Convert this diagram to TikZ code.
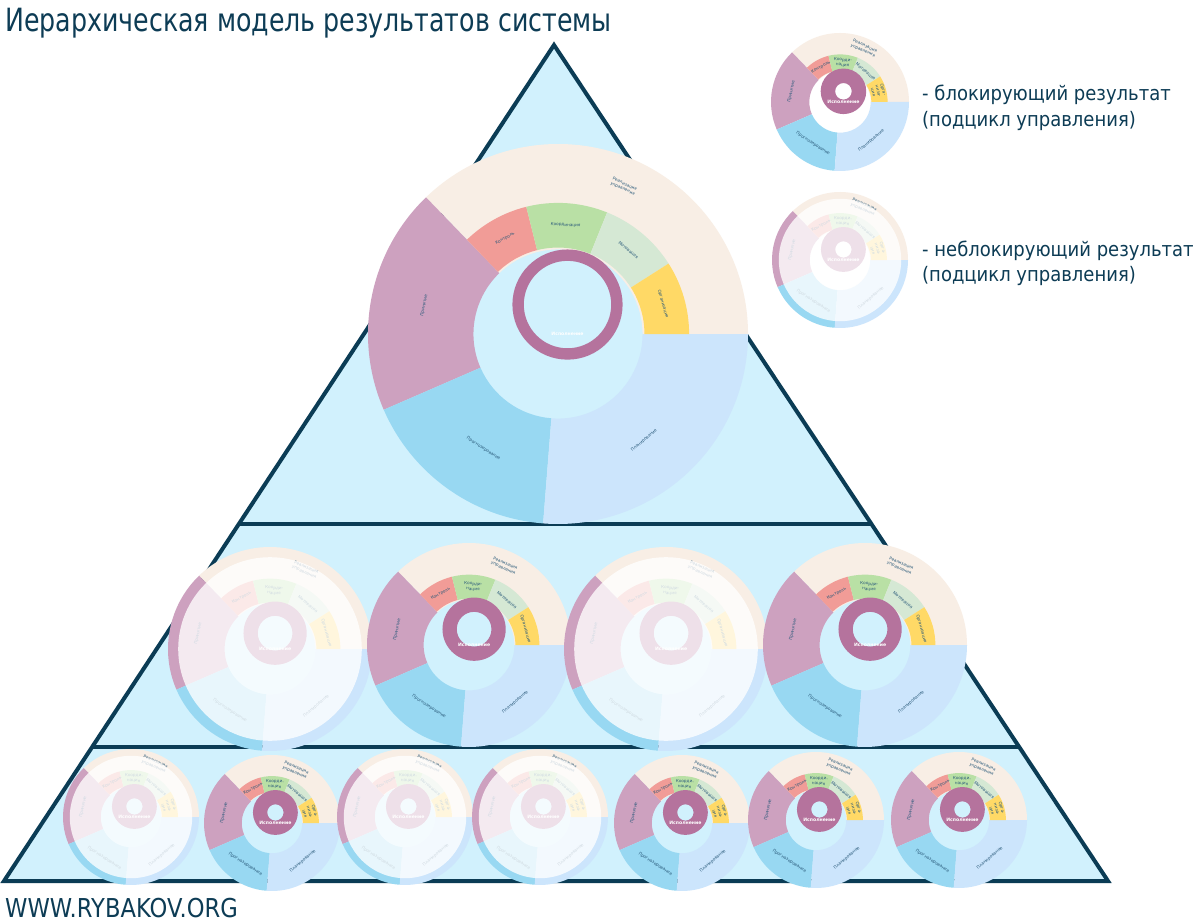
\documentclass[tikz,border=0pt]{standalone}
\usepackage{fontspec}
\setmainfont{DejaVu Sans}
\usetikzlibrary{calc}
\definecolor{bgc}{HTML}{D1F1FD}
\definecolor{linec}{HTML}{0B3C55}
\definecolor{titlec}{HTML}{0D3C55}
\definecolor{cbeige}{HTML}{F8EEE5}
\definecolor{cpurple}{HTML}{CDA1BF}
\definecolor{cring}{HTML}{B5739D}
\definecolor{cpink}{HTML}{F19C97}
\definecolor{cgreen}{HTML}{B9E0A5}
\definecolor{clgreen}{HTML}{D5E8D4}
\definecolor{cyellow}{HTML}{FFD966}
\definecolor{cblue}{HTML}{98D8F2}
\definecolor{cperi}{HTML}{CCE5FC}
\definecolor{lblc}{HTML}{2A5A7A}
\tikzset{
  lbl/.style={font=\fontsize{4.2}{5.2}\selectfont, text=lblc, align=center, inner sep=0pt},
  exec/.style={font=\fontsize{4.6}{5}\selectfont\bfseries, text=white, inner sep=0pt},
  edge/.style={draw=linec, line width=4.5pt},
  bigtext/.style={text=titlec, inner sep=0pt, anchor=base west}
}
% annular sector: color, a1, a2, r1 frac, r2 frac
\newcommand\annsec[5]{\fill[#1] (#2:{#4*\cR}) -- (#2:{#5*\cR}) arc[start angle=#2,end angle=#3,radius={#5*\cR}] -- (#3:{#4*\cR}) arc[start angle=#3,end angle=#2,radius={#4*\cR}] -- cycle;}
% result circle: x, y, R, ring outer frac, ring inner frac, Koord text, Org text
\newcommand\rescirc[7]{%
\begin{scope}[shift={(#1,#2)}]
  \def\cR{#3}
  \annsec{cbeige}{0}{134}{0.445}{1}
  \annsec{cpurple}{134}{203.5}{0.445}{1}
  \annsec{cblue}{203.5}{265.5}{0.445}{1}
  \annsec{cperi}{265.5}{360}{0.445}{1}
  \annsec{cpink}{104}{134}{0.455}{0.69}
  \annsec{cgreen}{68}{104}{0.455}{0.69}
  \annsec{clgreen}{32.5}{68}{0.455}{0.69}
  \annsec{cyellow}{0}{32.5}{0.455}{0.69}
  \fill[cring, even odd rule] ({0.05*\cR},{0.155*\cR}) circle[radius={#4*\cR}] ({0.05*\cR},{0.155*\cR}) circle[radius={#5*\cR}];
  \node[lbl, rotate=-24] at (66:{0.85*\cR}) {Реализация\\управления};
  \node[lbl, rotate=29] at (119:{0.575*\cR}) {Контроль};
  \node[lbl, rotate=-4] at (86:{0.575*\cR}) {#6};
  \node[lbl, rotate=-40] at (50:{0.575*\cR}) {Мотивация};
  \node[lbl, rotate=-74] at (16:{0.575*\cR}) {#7};
  \node[lbl, rotate=78] at (168:{0.72*\cR}) {Принятие};
  \node[lbl, rotate=-33] at (237:{0.72*\cR}) {Прогнозирование};
  \node[lbl, rotate=40] at (309:{0.72*\cR}) {Планирование};
  \node[exec] at ({0.05*\cR},0) {Исполнение};
\end{scope}}
\newcommand\fadeit[3]{\fill[white, opacity=0.78] (#1,#2) circle[radius={0.9*#3}];}
\newcommand\topcirc[3]{\rescirc{#1}{#2}{#3}{0.29}{0.23}{Координация}{Организация}}
\newcommand\midcirc[2]{\rescirc{#1}{#2}{102}{0.31}{0.17}{Коорди-\\нация}{Организация}}
\newcommand\lowcirc[3]{\rescirc{#1}{#2}{#3}{0.33}{0.12}{Коорди-\\нация}{Орга-\\низа-\\ция}}

\begin{document}
\begin{tikzpicture}[x=1pt, y=1pt]
\useasboundingbox (0,0) rectangle (1200,-923);
\fill[white] (0,0) rectangle (1200,-923);

% pyramid
\coordinate (apex) at (554,-45);
\coordinate (bl) at (4,-881);
\coordinate (br) at (1108,-881);
\filldraw[fill=bgc, draw=linec, line width=4pt, line join=miter] (apex) -- (br) -- (bl) -- cycle;
\coordinate (l1) at ($(apex)!0.573!(bl)$);
\coordinate (r1) at ($(apex)!0.573!(br)$);
\coordinate (l2) at ($(apex)!0.8397!(bl)$);
\coordinate (r2) at ($(apex)!0.8397!(br)$);
\draw[edge] (l1) -- (r1);
\draw[edge] (l2) -- (r2);

% top level
\topcirc{558}{-334}{190}

% level 2
\midcirc{270}{-649}
\fadeit{270}{-649}{102}
\midcirc{469}{-645}
\midcirc{666}{-649}
\fadeit{666}{-649}{102}
\midcirc{865}{-645}

% level 3
\lowcirc{131}{-817}{68}
\fadeit{131}{-817}{68}
\lowcirc{272}{-823}{68}
\lowcirc{405}{-817}{68}
\fadeit{405}{-817}{68}
\lowcirc{540}{-817}{68}
\fadeit{540}{-817}{68}
\lowcirc{682}{-823}{68}
\lowcirc{816}{-820}{68}
\lowcirc{959}{-820}{68}

% legend
\lowcirc{840}{-102}{69}
\lowcirc{840}{-260}{68}
\fadeit{840}{-260}{68}

\node[bigtext, font=\fontsize{20}{24}\selectfont] (leg1a) at (922,-100.7) {\scalebox{0.9}[1]{- блокирующий результат}};
\node[bigtext, font=\fontsize{20}{24}\selectfont] (leg1b) at (922,-126.7) {\scalebox{0.9}[1]{(подцикл управления)}};
\node[bigtext, font=\fontsize{20}{24}\selectfont] (leg2a) at (922,-256.7) {\scalebox{0.9}[1]{- неблокирующий результат}};
\node[bigtext, font=\fontsize{20}{24}\selectfont] (leg2b) at (922,-281.7) {\scalebox{0.9}[1]{(подцикл управления)}};

% title and footer
\node[bigtext, font=\fontsize{32}{36}\selectfont] (title) at (5,-31.5) {\scalebox{0.79}[1]{Иерархическая модель результатов системы}};
\node[bigtext, font=\fontsize{26}{30}\selectfont] (site) at (5,-917) {\scalebox{0.87}[1]{WWW.RYBAKOV.ORG}};
\end{tikzpicture}
\end{document}
